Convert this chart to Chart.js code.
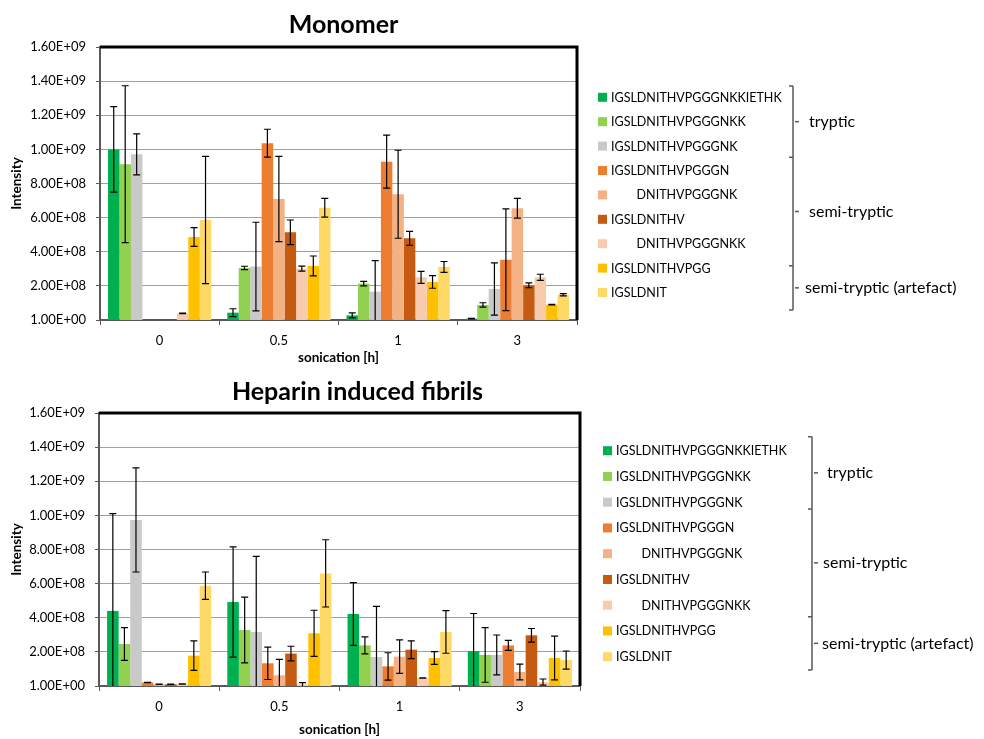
<!DOCTYPE html>
<html>
<head>
<meta charset="utf-8">
<script src="https://cdn.jsdelivr.net/npm/chart.js@4"></script>
<style>
  body { margin: 0; background: #fff; }
  .wrap { position: relative; width: 984px; height: 739px; }
  canvas { position: absolute; left: 0; }
</style>
</head>
<body>
<div class="wrap">
  <canvas id="monomer" width="984" height="370" style="top:0"></canvas>
  <canvas id="fibrils" width="984" height="369" style="top:370px"></canvas>
</div>
<script>
const categories = ['0', '0.5', '1', '3'];

const peptides = [
    'IGSLDNITHVPGGGNKKIETHK',
    'IGSLDNITHVPGGGNKK',
    'IGSLDNITHVPGGGNK',
    'IGSLDNITHVPGGGN',
    '        DNITHVPGGGNK',
    'IGSLDNITHV',
    '        DNITHVPGGGNKK',
    'IGSLDNITHVPGG',
    'IGSLDNIT'
];

const colors = ['#00B050', '#92D050', '#C9C9C9', '#ED7D31', '#F4B183', '#C55A11', '#F8CBAD', '#FFC000', '#FFD966'];

// peptide groups for the bracket on the right
const groups = ['tryptic', 'semi-tryptic', 'semi-tryptic (artefact)'];

// rows follow peptides, columns follow categories (intensity)
const monomerMean = [
    [1.00e9, 4.3e7, 2.7e7, 8e6],
    [9.13e8, 3.05e8, 2.13e8, 8.8e7],
    [9.71e8, 3.13e8, 1.66e8, 1.82e8],
    [0, 1.036e9, 9.28e8, 3.53e8],
    [0, 7.09e8, 7.37e8, 6.55e8],
    [0, 5.14e8, 4.79e8, 2.03e8],
    [3.9e7, 3.01e8, 2.50e8, 2.50e8],
    [4.86e8, 3.17e8, 2.23e8, 9.0e7],
    [5.86e8, 6.58e8, 3.11e8, 1.48e8]
];
const monomerErr = [
    [2.5e8, 2.3e7, 1.5e7, 1e6],
    [4.6e8, 1.0e7, 1.3e7, 1.3e7],
    [1.2e8, 2.6e8, 1.82e8, 1.53e8],
    [0, 8.2e7, 1.55e8, 2.98e8],
    [0, 2.5e8, 2.58e8, 5.8e7],
    [0, 7.2e7, 4.1e7, 1.4e7],
    [2e6, 1.5e7, 3.5e7, 1.8e7],
    [5.5e7, 5.8e7, 3.7e7, 1e6],
    [3.73e8, 5.5e7, 3.2e7, 7e6]
];

const fibrilMean = [
    [4.40e8, 4.92e8, 4.22e8, 2.05e8],
    [2.46e8, 3.28e8, 2.38e8, 1.82e8],
    [9.73e8, 3.17e8, 1.70e8, 1.82e8],
    [2.1e7, 1.33e8, 1.15e8, 2.38e8],
    [1.0e7, 6.3e7, 1.72e8, 8.2e7],
    [1.0e7, 1.90e8, 2.13e8, 2.97e8],
    [1.2e7, 1.0e7, 4.7e7, 2.3e7],
    [1.78e8, 3.09e8, 1.64e8, 1.64e8],
    [5.88e8, 6.60e8, 3.17e8, 1.52e8]
];
const fibrilErr = [
    [5.7e8, 3.23e8, 1.84e8, 2.2e8],
    [9.6e7, 1.93e8, 5.0e7, 1.6e8],
    [3.05e8, 4.43e8, 2.97e8, 1.17e8],
    [1e6, 9.5e7, 8.0e7, 2.9e7],
    [1e6, 9.3e7, 9.8e7, 4.6e7],
    [1e6, 4.3e7, 5.2e7, 4.0e7],
    [1e6, 1.0e7, 1e6, 1.8e7],
    [8.7e7, 1.35e8, 3.7e7, 1.28e8],
    [8.0e7, 1.97e8, 1.25e8, 5.3e7]
];

Chart.defaults.font.family = "Lato, 'Open Sans', sans-serif";
Chart.defaults.color = '#000';

function sci(v) {
    const [m, e] = Number(v).toExponential(2).split('e');
    const sign = e[0] === '-' ? '-' : '+';
    return m + 'E' + sign + e.replace(/[+-]/, '').padStart(2, '0');
}

// error bars, plot frame, title, legend and bracket
const panelPlugin = {
    id: 'panel',
    afterDatasetsDraw(chart) {
        const { ctx, chartArea: a, scales: { y } } = chart;
        ctx.save();
        ctx.beginPath();
        ctx.rect(a.left, a.top - 2, a.right - a.left, a.bottom - a.top + 2);
        ctx.clip();
        ctx.strokeStyle = '#000';
        ctx.lineWidth = 1.2;
        chart.data.datasets.forEach((ds, i) => {
            chart.getDatasetMeta(i).data.forEach((bar, j) => {
                const v = ds.data[j], e = ds.errors[j];
                if (!e) return;
                const hi = y.getPixelForValue(v + e);
                const lo = y.getPixelForValue(v - e);
                ctx.beginPath();
                ctx.moveTo(bar.x, hi);
                ctx.lineTo(bar.x, lo);
                ctx.moveTo(bar.x - 3.5, hi);
                ctx.lineTo(bar.x + 3.5, hi);
                if (v - e > 0) {
                    ctx.moveTo(bar.x - 3.5, lo);
                    ctx.lineTo(bar.x + 3.5, lo);
                }
                ctx.stroke();
            });
        });
        ctx.restore();
    },
    afterDraw(chart, args, opts) {
        const { ctx, chartArea: a } = chart;
        ctx.save();

        // black frame on top and right
        ctx.strokeStyle = '#000';
        ctx.lineWidth = 3;
        ctx.beginPath();
        ctx.moveTo(a.left, a.top);
        ctx.lineTo(a.right, a.top);
        ctx.lineTo(a.right, a.bottom);
        ctx.stroke();

        // title
        ctx.fillStyle = '#000';
        ctx.font = "bold 25px Lato, 'Open Sans', sans-serif";
        ctx.textAlign = 'center';
        ctx.textBaseline = 'middle';
        ctx.fillText(opts.title, opts.titleX, opts.titleY);

        // legend
        ctx.font = "12.5px Lato, 'Open Sans', sans-serif";
        ctx.textAlign = 'left';
        chart.data.datasets.forEach((ds, i) => {
            const cy = opts.legendY + i * opts.legendStep;
            ctx.fillStyle = ds.backgroundColor;
            ctx.fillRect(opts.legendX, cy - 4.5, 9, 9);
            ctx.fillStyle = '#000';
            ctx.fillText(ds.label, opts.legendX + 13, cy + 0.5);
        });

        // bracket
        const bx = opts.bracketX, br = opts.bracket;
        ctx.strokeStyle = '#595959';
        ctx.lineWidth = 1.5;
        ctx.beginPath();
        ctx.moveTo(bx, br[0]);
        ctx.lineTo(bx, br[br.length - 1]);
        br.forEach(by => { ctx.moveTo(bx - 4, by); ctx.lineTo(bx, by); });
        ctx.stroke();
        ctx.font = "16px Lato, 'Open Sans', sans-serif";
        ctx.fillStyle = '#000';
        groups.forEach((g, k) => {
            const my = (br[k] + br[k + 1]) / 2;
            ctx.beginPath();
            ctx.moveTo(bx + 2, my);
            ctx.lineTo(bx + 6, my);
            ctx.stroke();
            ctx.fillText(g, opts.labelX[k], my);
        });
        ctx.restore();
    }
};

function makeChart(id, means, errs, box, panel) {
    const datasets = peptides.map((p, i) => ({
        label: p,
        data: means[i],
        errors: errs[i],
        backgroundColor: colors[i],
        borderWidth: 0
    }));
    return new Chart(document.getElementById(id), {
        type: 'bar',
        data: { labels: categories, datasets },
        plugins: [panelPlugin],
        options: {
            responsive: false,
            animation: false,
            events: [],
            layout: { padding: { left: 0, right: box.right, top: box.top, bottom: 0 } },
            datasets: { bar: { categoryPercentage: 0.866, barPercentage: 1 } },
            plugins: {
                legend: { display: false },
                tooltip: { enabled: false },
                panel
            },
            scales: {
                x: {
                    grid: { offset: true, drawOnChartArea: false, tickLength: 5, color: '#595959' },
                    border: { color: '#595959', width: 2 },
                    ticks: { font: { size: 13 }, padding: 8 },
                    title: {
                        display: true,
                        text: 'sonication [h]',
                        font: { size: 13.5, weight: 'bold' },
                        padding: { top: 0, bottom: box.xTitlePad }
                    },
                    afterFit(s) { s.height = box.xHeight; }
                },
                y: {
                    min: 1,
                    max: 1.6e9,
                    ticks: { stepSize: 2e8, font: { size: 13 }, padding: 10, callback: v => sci(v) },
                    grid: { color: '#A0A0A0', tickColor: '#595959', tickLength: 4 },
                    border: { color: '#595959', width: 2 },
                    title: {
                        display: true,
                        text: 'Intensity',
                        font: { size: 13.5, weight: 'bold' },
                        padding: { top: 9, bottom: 0 }
                    },
                    afterFit(s) { s.width = box.left; }
                }
            }
        }
    });
}

makeChart('monomer', monomerMean, monomerErr,
    { left: 100, right: 407, top: 47, xHeight: 50, xTitlePad: 4 },
    {
        title: 'Monomer', titleX: 343.5, titleY: 25,
        legendX: 598, legendY: 97.3, legendStep: 24.4,
        bracketX: 793, bracket: [86, 157.3, 265.7, 310],
        labelX: [809, 809, 805]
    });

makeChart('fibrils', fibrilMean, fibrilErr,
    { left: 99, right: 404, top: 43, xHeight: 53, xTitlePad: 1 },
    {
        title: 'Heparin induced fibrils', titleX: 357.5, titleY: 22,
        legendX: 603, legendY: 80.7, legendStep: 25.75,
        bracketX: 812, bracket: [66.7, 139, 246.7, 300],
        labelX: [827, 823, 822]
    });
</script>
</body>
</html>
